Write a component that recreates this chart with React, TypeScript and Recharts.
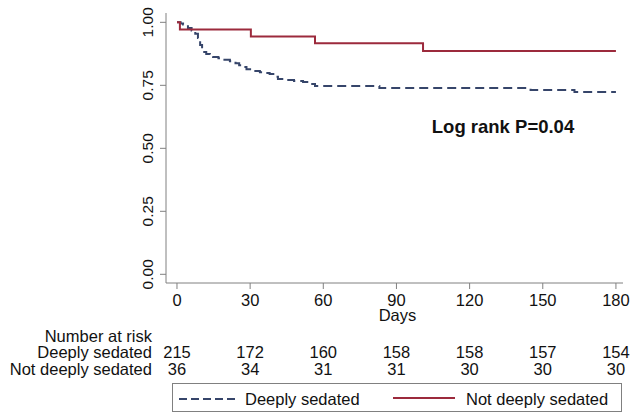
import { LineChart, Line, XAxis, YAxis } from "recharts";

// Kaplan-Meier curves
const deepDays = [0, 1.5, 2.5, 3.5, 4.5, 6, 7.5, 8.6, 9.5, 10.3, 12, 13.5, 14.8, 17, 19, 21.7, 24, 25.5, 27, 28.5, 31.2, 34, 36, 38, 40, 41.4, 45, 48, 51.7, 54, 56.6, 83, 145, 163, 180];
const deepSurv = [1, 0.995, 0.991, 0.984, 0.977, 0.968, 0.955, 0.938, 0.91, 0.882, 0.874, 0.867, 0.862, 0.857, 0.851, 0.846, 0.838, 0.83, 0.823, 0.814, 0.807, 0.802, 0.799, 0.795, 0.784, 0.775, 0.771, 0.767, 0.763, 0.755, 0.747, 0.739, 0.731, 0.723, 0.723];
const notDeepDays = [0, 1.2, 30.3, 56.6, 100.9, 180];
const notDeepSurv = [1, 0.972, 0.944, 0.917, 0.886, 0.886];

// number at risk table
const riskDays = [0, 30, 60, 90, 120, 150, 180];
const riskDeep = [215, 172, 160, 158, 158, 157, 154];
const riskNotDeep = [36, 34, 31, 31, 30, 30, 30];
const yTicks = [0, 0.25, 0.5, 0.75, 1];

const FONT = "'Liberation Sans', Arial, sans-serif";
const RED = "#9c2a3c";
const BLUE = "#36456a";
const AXIS = "#808080";

const deepData = deepDays.map((d, i) => ({ day: d, s: deepSurv[i] }));
const notDeepData = notDeepDays.map((d, i) => ({ day: d, s: notDeepSurv[i] }));

function XTick(props: any) {
  const { x, y, payload, index } = props;
  return (
    <g fontFamily={FONT} fontSize={16.5} fill="#111">
      <text x={x} y={y + 15}>
        <tspan x={x} textAnchor="middle">{payload.value}</tspan>
      </text>
      <text x={x} y={y + 67} textAnchor="middle">{riskDeep[index]}</text>
      <text x={x} y={y + 84} textAnchor="middle">{riskNotDeep[index]}</text>
      {index === 0 && (
        <g textAnchor="end">
          <text x={x - 25} y={y + 51}>Number at risk</text>
          <text x={x - 25} y={y + 67}>Deeply sedated</text>
          <text x={x - 25} y={y + 84}>Not deeply sedated</text>
        </g>
      )}
    </g>
  );
}

function YTick(props: any) {
  const { x, y, payload } = props;
  const bx = x - 5;
  return (
    <text
      x={bx}
      y={y}
      transform={`rotate(-90, ${bx}, ${y})`}
      textAnchor="middle"
      fontFamily={FONT}
      fontSize={15.5}
      fill="#111"
    >
      {payload.value.toFixed(2)}
    </text>
  );
}

function DaysLabel(props: any) {
  const vb = props.viewBox || { x: 166, y: 283, width: 457 };
  return (
    <text x={vb.x + vb.width / 2 + 3} y={vb.y + 38} textAnchor="middle" fontFamily={FONT} fontSize={16.5} fill="#111">
      Days
    </text>
  );
}

export default function App() {
  return (
    <div style={{ position: "absolute", left: 0, top: 0, width: 641, height: 418, background: "#fff", fontFamily: FONT }}>
      <LineChart width={641} height={418} margin={{ top: 13, right: 18, left: 116, bottom: 95 }}>
        <XAxis
          type="number"
          dataKey="day"
          domain={[-4.5, 182.9]}
          ticks={riskDays}
          tick={<XTick />}
          tickSize={6}
          height={40}
          stroke={AXIS}
          allowDataOverflow
          label={<DaysLabel />}
        />
        <YAxis
          type="number"
          domain={[-0.0345, 1.037]}
          ticks={yTicks}
          tick={<YTick />}
          tickSize={6}
          width={50}
          stroke={AXIS}
          allowDataOverflow
        />
        <Line
          data={deepData}
          dataKey="s"
          type="stepAfter"
          stroke={BLUE}
          strokeWidth={2}
          strokeDasharray="9 5"
          dot={false}
          isAnimationActive={false}
        />
        <Line
          data={notDeepData}
          dataKey="s"
          type="stepAfter"
          stroke={RED}
          strokeWidth={2}
          dot={false}
          isAnimationActive={false}
        />
      </LineChart>
      <svg width={641} height={418} style={{ position: "absolute", left: 0, top: 0, pointerEvents: "none" }}>
        <text x={503} y={133} textAnchor="middle" fontFamily={FONT} fontSize={18.5} fontWeight="bold" fill="#111">
          Log rank P=0.04
        </text>
        <rect x={172.5} y={383.5} width={449} height={28} fill="none" stroke={AXIS} strokeWidth={1} />
        <line x1={179} y1={399} x2={239} y2={399} stroke={BLUE} strokeWidth={2} strokeDasharray="8 4" />
        <text x={245} y={405} fontFamily={FONT} fontSize={16.5} fill="#111">Deeply sedated</text>
        <line x1={393} y1={398} x2={455} y2={398} stroke={RED} strokeWidth={2} />
        <text x={466} y={405} fontFamily={FONT} fontSize={16.5} fill="#111">Not deeply sedated</text>
      </svg>
    </div>
  );
}
